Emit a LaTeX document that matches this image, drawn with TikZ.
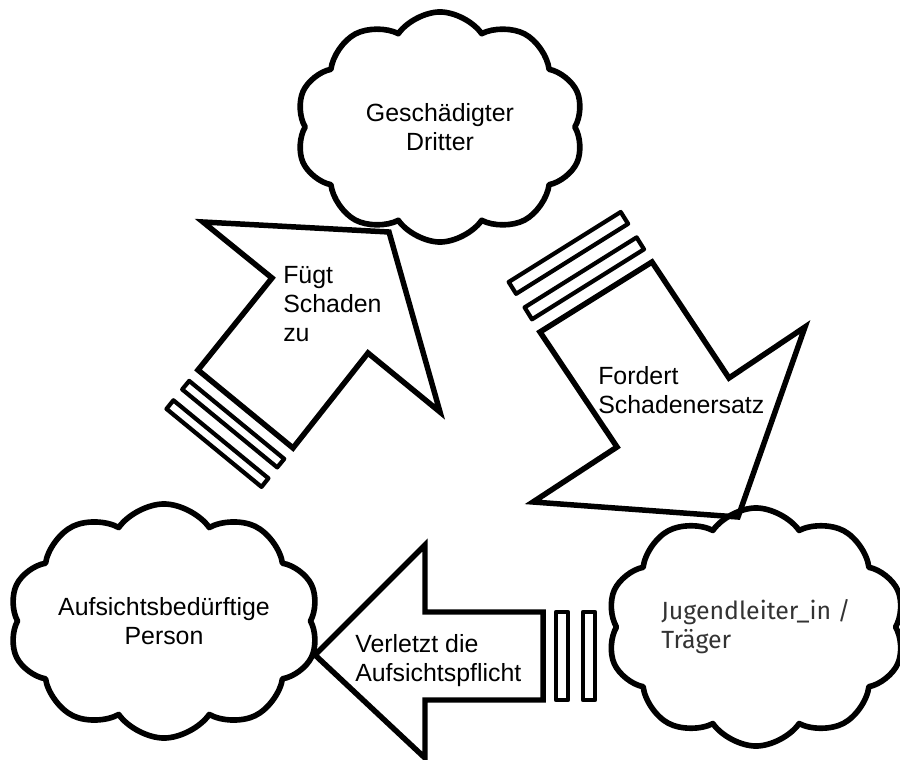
\documentclass[tikz,border=0pt]{standalone}
\usepackage{fontspec}
\setmainfont{Liberation Sans}
\newfontfamily\leiterfont{Fira Sans}
\usetikzlibrary{shapes.symbols}
\tikzset{
  wolke/.style={cloud, draw, line width=4pt, line join=round, cloud puffs=10,
    cloud puff arc=110, cloud ignores aspect, align=center,
    font=\fontsize{17.7pt}{20.6pt}\selectfont},
  pfeil/.style={draw, line width=3.9pt, line join=miter},
  streifen/.style={draw, line width=3pt, line join=round},
  beschr/.style={inner sep=0pt, anchor=north west, align=left,
    font=\fontsize{17.7pt}{20.6pt}\selectfont}
}
\begin{document}
\begin{tikzpicture}[x=0.025cm, y=-0.025cm]
\useasboundingbox (0,0) rectangle (900,760);
% Wolken
\node[wolke, minimum width=7.2cm, minimum height=5.75cm] (dritter) at (440,127) {Geschädigter\\Dritter};
\node[wolke, minimum width=7.6cm, minimum height=5.85cm] (person) at (164,621) {Aufsichtsbedürftige\\Person};
\node[wolke, minimum width=7.45cm, minimum height=5.95cm, align=left, text=black!80,
  font=\fontsize{17.7pt}{20.6pt}\leiterfont] (leiter) at (756,627) {Jugendleiter\_in /\\Träger};

% Fügt Schaden zu
\draw[pfeil] (198,370) -- (272,278) -- (203,222) -- (389,232) -- (440,412) -- (368,353) -- (293,448) -- cycle;
\draw[streifen] (189.2,380.9) -- (284.2,458.9) -- (277.2,467.4) -- (182.2,389.4) -- cycle;
\draw[streifen] (173.4,400.3) -- (268.4,478.3) -- (261.5,486.9) -- (166.5,408.9) -- cycle;
\node[beschr] (schaden) at (283,266) {Fügt\\Schaden\\zu};

% Fordert Schadenersatz
\draw[pfeil] (540,332) -- (652,262) -- (729,378) -- (805,327) -- (738,517) -- (533,502) -- (617,447) -- cycle;
\draw[streifen] (532,319.3) -- (644,249.3) -- (636.6,237.4) -- (524.6,307.4) -- cycle;
\draw[streifen] (516.1,293.8) -- (628.1,223.8) -- (620.7,212) -- (508.7,282) -- cycle;
\node[beschr] (ersatz) at (598,366) {Fordert\\Schadenersatz};

% Verletzt die Aufsichtspflicht
\draw[pfeil] (543,612) -- (425,612) -- (425,545) -- (315,655) -- (425,758) -- (425,700) -- (543,700) -- cycle;
\draw[streifen] (556,612) rectangle (568,700);
\draw[streifen] (583,612) rectangle (595,700);
\node[beschr] (pflicht) at (355,634) {Verletzt die\\Aufsichtspflicht};

\end{tikzpicture}
\end{document}
